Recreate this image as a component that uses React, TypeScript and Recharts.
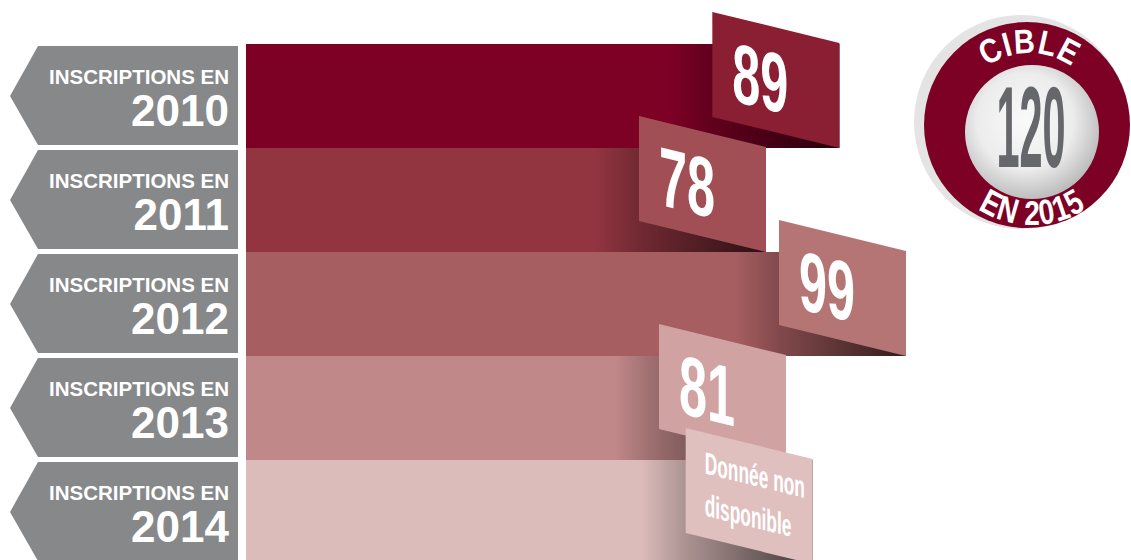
import { BarChart, Bar, XAxis, YAxis } from "recharts";

const years = ["2010", "2011", "2012", "2013", "2014"];
const inscriptions: (number | null)[] = [89, 78, 99, 81, null];
// length of the ribbon drawn for the year without data
const placeholderLength = 85;
const targetValue = 120;
const targetYear = "2015";

const barColors = ["#7d0025", "#923541", "#a75e61", "#c18889", "#dcbcbb"];
const tagColors = ["#8a1f33", "#a14f54", "#b57575", "#d1a2a2", "#dfc0bf"];

const data = years.map((year, i) => ({
  year,
  value: inscriptions[i],
  length: inscriptions[i] ?? placeholderLength,
}));

const FONT = "'Liberation Sans', Arial, sans-serif";
const TAG_W = 127;
const SKEW = 13.7;

// rough bold glyph widths (em) used to space letters around the badge
const glyphW: Record<string, number> = {
  C: 0.722, I: 0.278, B: 0.722, L: 0.611, E: 0.667, N: 0.722, " ": 0.278,
};

function YearTag(props: any) {
  const { y, payload } = props;
  const top = y - 50;
  const bottom = y + 49;
  return (
    <g>
      <polygon
        points={`10,${y} 38,${top} 238,${top} 238,${bottom} 38,${bottom}`}
        fill="#87888a"
      />
      <text x={229} y={y - 12} textAnchor="end" fill="#fff" fontSize={20.5} fontWeight="bold" fontFamily={FONT}>
        INSCRIPTIONS EN
      </text>
      <text x={229} y={y + 30} textAnchor="end" fill="#fff" fontSize={44} fontWeight="bold" fontFamily={FONT}>
        {payload.value}
      </text>
    </g>
  );
}

function RibbonBar(props: any) {
  const { x, y, width, height, payload } = props;
  const i = years.indexOf(payload.year);
  const right = x + width;
  const left = right - TAG_W;
  const missing = payload.value == null;
  return (
    <g>
      <rect x={x} y={y} width={width} height={height} fill={barColors[i]} />
      <rect x={left - 45} y={y} width={TAG_W + 45} height={height} fill="url(#shade)" />
      <polygon
        points={`${left},${y - 32} ${right},${y - 1} ${right},${y + height} ${left},${y + height - 31}`}
        fill={tagColors[i]}
      />
      {missing ? (
        <g transform={`translate(${left},${y - 32}) skewY(${SKEW}) scale(0.56,1)`}>
          <text x={19 / 0.56} y={41} fill="#fff" fontSize={31} fontWeight="bold" fontFamily={FONT}>
            Donnée non
          </text>
          <text x={19 / 0.56} y={83} fill="#fff" fontSize={31} fontWeight="bold" fontFamily={FONT}>
            disponible
          </text>
        </g>
      ) : (
        <g transform={`translate(${left},${y - 32}) skewY(${SKEW}) scale(0.6,1)`}>
          <text x={20 / 0.6} y={84} fill="#fff" fontSize={84} fontWeight="bold" fontFamily={FONT}>
            {payload.value}
          </text>
        </g>
      )}
    </g>
  );
}

// places letters one by one along a circle; top = reads over the top, else along the bottom
function ArcLetters(props: {
  text: string; cx: number; cy: number; r: number; size: number;
  squeeze: number; gap: number; top: boolean;
}) {
  const { text, cx, cy, r, size, squeeze, gap, top } = props;
  const widths = text.split("").map((c) => (glyphW[c] ?? 0.556) * size * squeeze);
  const total = widths.reduce((a, b) => a + b, 0) + gap * (text.length - 1);
  let s = -total / 2;
  return (
    <g>
      {text.split("").map((c, k) => {
        const mid = s + widths[k] / 2;
        s += widths[k] + gap;
        const a = top ? -Math.PI / 2 + mid / r : Math.PI / 2 - mid / r;
        const px = cx + r * Math.cos(a);
        const py = cy + r * Math.sin(a);
        const rot = (a * 180) / Math.PI + (top ? 90 : -90);
        if (c === " ") return null;
        return (
          <g key={k} transform={`translate(${px},${py}) rotate(${rot}) scale(${squeeze},1)`}>
            <text x={0} y={0} textAnchor="middle" fill="#fff" fontSize={size} fontWeight="bold" fontFamily={FONT}>
              {c}
            </text>
          </g>
        );
      })}
    </g>
  );
}

function TargetBadge() {
  const cx = 1029;
  const cy = 126;
  return (
    <svg width={1131} height={560} style={{ position: "absolute", left: 0, top: 0 }}>
      <defs>
        <radialGradient id="core" cx="45%" cy="42%" r="60%">
          <stop offset="0%" stopColor="#fafafa" />
          <stop offset="60%" stopColor="#ececec" />
          <stop offset="100%" stopColor="#b9b9b9" />
        </radialGradient>
      </defs>
      <circle cx={1021} cy={122} r={107} fill="#e4e4e4" />
      <circle cx={1027} cy={125} r={103} fill="#7d0025" />
      <circle cx={1032} cy={132} r={67} fill="url(#core)" />
      <ArcLetters text="CIBLE" cx={cx} cy={cy} r={73} size={34} squeeze={0.85} gap={1} top />
      <ArcLetters text={`EN ${targetYear}`} cx={1032} cy={cy} r={99} size={35} squeeze={0.8} gap={1} top={false} />
      <g transform={`translate(1031,167) scale(0.36,1)`}>
        <text x={0} y={0} textAnchor="middle" fill="#66676a" fontSize={115} fontWeight="bold" fontFamily={FONT}>
          {targetValue}
        </text>
      </g>
    </svg>
  );
}

export default function App() {
  return (
    <div
      style={{
        position: "absolute",
        left: 0,
        top: 0,
        width: 1131,
        height: 560,
        overflow: "hidden",
        background: "#fff",
        fontFamily: FONT,
      }}
    >
      <BarChart
        width={1131}
        height={570}
        data={data}
        layout="vertical"
        margin={{ top: 44, right: 85, bottom: 6, left: 0 }}
        barCategoryGap={0}
      >
        <defs>
          <linearGradient id="shade" x1="0" y1="0" x2="1" y2="0">
            <stop offset="0%" stopColor="#000" stopOpacity={0} />
            <stop offset="26%" stopColor="#000" stopOpacity={0.22} />
            <stop offset="100%" stopColor="#000" stopOpacity={0.7} />
          </linearGradient>
        </defs>
        <XAxis type="number" domain={[0, targetValue]} hide />
        <YAxis
          type="category"
          dataKey="year"
          width={246}
          axisLine={false}
          tickLine={false}
          tick={<YearTag />}
        />
        <Bar dataKey="length" shape={RibbonBar} isAnimationActive={false} />
      </BarChart>
      <TargetBadge />
    </div>
  );
}
